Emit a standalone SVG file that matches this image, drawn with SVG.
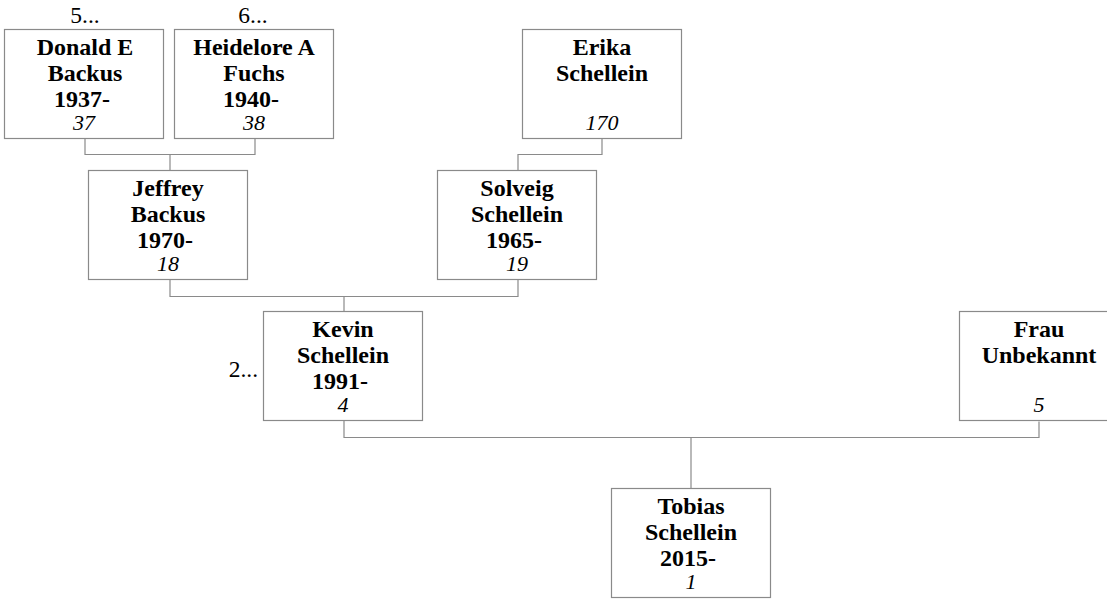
<svg xmlns="http://www.w3.org/2000/svg" width="1107" height="599" viewBox="0 0 1107 599">
<style>
.box{fill:#fff;stroke:#8a8a8a;stroke-width:1.2}
.ln{fill:none;stroke:#8a8a8a;stroke-width:1.2}
.n{font-family:"Liberation Serif","Times New Roman",serif;font-size:24px;font-weight:bold;fill:#000;text-anchor:middle}
.i{font-family:"Liberation Serif","Times New Roman",serif;font-size:22px;font-style:italic;fill:#000;text-anchor:middle}
.m{font-family:"Liberation Serif","Times New Roman",serif;font-size:23.5px;fill:#000}
</style>
<rect width="1107" height="599" fill="#fff"/>
<g id="connectors">
<polyline class="ln" points="85,138.5 85,154.5 255,154.5 255,138.5"/>
<line class="ln" x1="170" y1="154.5" x2="170" y2="170.5"/>
<polyline class="ln" points="602,138.5 602,154.5 518,154.5 518,170.5"/>
<polyline class="ln" points="170,279.5 170,296.5 518,296.5 518,279.5"/>
<line class="ln" x1="344" y1="296.5" x2="344" y2="311.5"/>
<polyline class="ln" points="344,420.5 344,437.5 1039,437.5 1039,421.5"/>
<line class="ln" x1="691" y1="437.5" x2="691" y2="488.5"/>
</g>
<g id="more">
<text class="m" x="85" y="23" text-anchor="middle">5...</text>
<text class="m" x="253" y="23" text-anchor="middle">6...</text>
<text class="m" x="258" y="377" text-anchor="end">2...</text>
</g>
<g id="donald">
<rect class="box" x="4.5" y="29.5" width="159" height="109"/>
<text class="n" x="85" y="55">Donald E</text>
<text class="n" x="85" y="81">Backus</text>
<text class="n" x="82" y="107">1937-</text>
<text class="i" x="84" y="130">37</text>
</g>
<g id="heidelore">
<rect class="box" x="174.5" y="29.5" width="159" height="109"/>
<text class="n" x="254" y="55">Heidelore A</text>
<text class="n" x="254" y="81">Fuchs</text>
<text class="n" x="251" y="107">1940-</text>
<text class="i" x="254" y="130">38</text>
</g>
<g id="erika">
<rect class="box" x="522.5" y="29.5" width="159" height="109"/>
<text class="n" x="602" y="55">Erika</text>
<text class="n" x="602" y="81">Schellein</text>
<text class="i" x="602" y="130">170</text>
</g>
<g id="jeffrey">
<rect class="box" x="88.5" y="170.5" width="159" height="109"/>
<text class="n" x="168" y="196">Jeffrey</text>
<text class="n" x="168" y="222">Backus</text>
<text class="n" x="165" y="248">1970-</text>
<text class="i" x="168" y="271">18</text>
</g>
<g id="solveig">
<rect class="box" x="437.5" y="170.5" width="159" height="109"/>
<text class="n" x="517" y="196">Solveig</text>
<text class="n" x="517" y="222">Schellein</text>
<text class="n" x="514" y="248">1965-</text>
<text class="i" x="517" y="271">19</text>
</g>
<g id="kevin">
<rect class="box" x="263.5" y="311.5" width="159" height="109"/>
<text class="n" x="343" y="337">Kevin</text>
<text class="n" x="343" y="363">Schellein</text>
<text class="n" x="340" y="389">1991-</text>
<text class="i" x="343" y="412">4</text>
</g>
<g id="frau">
<rect class="box" x="959.5" y="311.5" width="159" height="109"/>
<text class="n" x="1039" y="337">Frau</text>
<text class="n" x="1039" y="363">Unbekannt</text>
<text class="i" x="1039" y="412">5</text>
</g>
<g id="tobias">
<rect class="box" x="611.5" y="488.5" width="159" height="109"/>
<text class="n" x="691" y="514">Tobias</text>
<text class="n" x="691" y="540">Schellein</text>
<text class="n" x="688" y="566">2015-</text>
<text class="i" x="691" y="589">1</text>
</g>
</svg>
